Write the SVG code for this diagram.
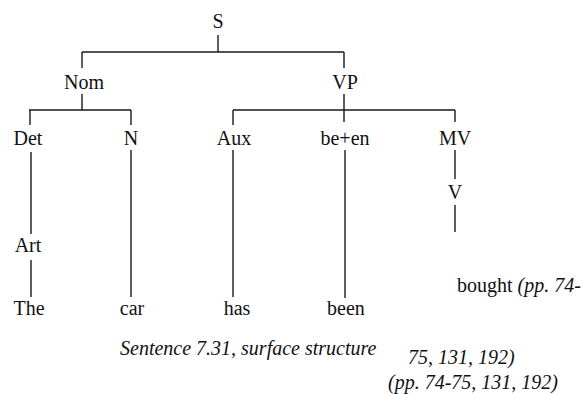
<svg xmlns="http://www.w3.org/2000/svg" width="583" height="394" viewBox="0 0 583 394">
  <style>
    .edge { stroke: #1a1a1a; stroke-width: 1.4; fill: none; }
  </style>
  <rect width="583" height="394" fill="#fff"/>

  <!-- branches of the tree -->
  <g id="connectors" class="edge">
    <path d="M218 35V52M82 52H344M82 52V68M344 52V68"/>
    <path d="M82 94V110M29 110H131M30 110V125M131 110V125"/>
    <path d="M344 94V122M233 110H455M233 110V125M455 110V122"/>
    <path d="M31 152V234M31 260V297"/>
    <path d="M131 150V297"/>
    <path d="M233 150V297"/>
    <path d="M345 150V298"/>
    <path d="M455 150V179M455 205V232"/>
  </g>

  <g id="S"><text x="218" y="28" font-family="Liberation Serif" font-size="20" fill="#111" text-anchor="middle">S</text></g>
  <g id="Nom"><text x="84" y="89" font-family="Liberation Serif" font-size="20" fill="#111" text-anchor="middle">Nom</text></g>
  <g id="VP"><text x="345" y="89" font-family="Liberation Serif" font-size="20" fill="#111" text-anchor="middle">VP</text></g>
  <g id="Det"><text x="28" y="145" font-family="Liberation Serif" font-size="20" fill="#111" text-anchor="middle">Det</text></g>
  <g id="N"><text x="131" y="145" font-family="Liberation Serif" font-size="20" fill="#111" text-anchor="middle">N</text></g>
  <g id="Aux"><text x="234" y="145" font-family="Liberation Serif" font-size="20" fill="#111" text-anchor="middle">Aux</text></g>
  <g id="be-en"><text x="345" y="145" font-family="Liberation Serif" font-size="20" fill="#111" text-anchor="middle">be+en</text></g>
  <g id="MV"><text x="455" y="145" font-family="Liberation Serif" font-size="20" fill="#111" text-anchor="middle">MV</text></g>
  <g id="V"><text x="455" y="199" font-family="Liberation Serif" font-size="20" fill="#111" text-anchor="middle">V</text></g>
  <g id="Art"><text x="28" y="252" font-family="Liberation Serif" font-size="20" fill="#111" text-anchor="middle">Art</text></g>
  <g id="The"><text x="29" y="315" font-family="Liberation Serif" font-size="20" fill="#111" text-anchor="middle">The</text></g>
  <g id="car"><text x="132" y="315" font-family="Liberation Serif" font-size="20" fill="#111" text-anchor="middle">car</text></g>
  <g id="has"><text x="237" y="315" font-family="Liberation Serif" font-size="20" fill="#111" text-anchor="middle">has</text></g>
  <g id="been"><text x="346" y="315" font-family="Liberation Serif" font-size="20" fill="#111" text-anchor="middle">been</text></g>
  <g id="bought"><text x="457" y="292" font-family="Liberation Serif" font-size="20" fill="#111">bought <tspan font-style="italic">(pp. 74-</tspan></text></g>

  <!-- caption and page references -->
  <g id="caption">
    <text x="120" y="355" font-family="Liberation Serif" font-size="20" font-style="italic" fill="#111">Sentence 7.31, surface structure</text>
    <text x="408" y="364" font-family="Liberation Serif" font-size="20" font-style="italic" fill="#111">75, 131, 192)</text>
    <text x="388" y="389" font-family="Liberation Serif" font-size="20" font-style="italic" fill="#111">(pp. 74-75, 131, 192)</text>
  </g>
</svg>
